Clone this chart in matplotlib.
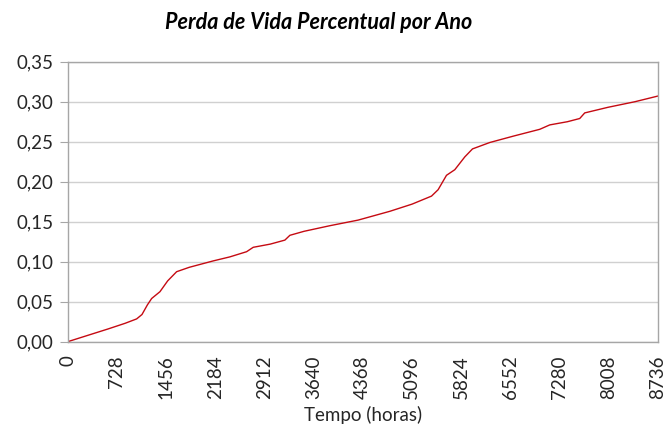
import matplotlib
matplotlib.use("Agg")
import matplotlib.pyplot as plt
from matplotlib.ticker import FuncFormatter

# Pontos (horas, perda de vida %)
horas = [0, 300, 600, 850, 1021, 1100, 1180, 1243, 1366, 1480, 1613, 1800,
         2155, 2400, 2649, 2747, 3000, 3216, 3290, 3500, 3882, 4300,
         4770, 5100, 5387, 5485, 5609, 5732, 5880, 5994, 6250, 6600,
         6990, 7138, 7400, 7582, 7656, 8000, 8400, 8736]
perda = [0.0, 0.008, 0.016, 0.023, 0.0285, 0.034, 0.046, 0.054, 0.0625, 0.076, 0.0875, 0.093,
         0.101, 0.106, 0.1125, 0.118, 0.122, 0.127, 0.133, 0.138, 0.145, 0.152,
         0.163, 0.172, 0.182, 0.19, 0.208, 0.215, 0.231, 0.241, 0.249, 0.257,
         0.2655, 0.271, 0.275, 0.279, 0.286, 0.293, 0.300, 0.307]

xticks = list(range(0, 8737, 728))
yticks = [0.0, 0.05, 0.10, 0.15, 0.20, 0.25, 0.30, 0.35]

plt.rcParams['font.family'] = ['Lato', 'DejaVu Sans']

fig = plt.figure(figsize=(6.67, 4.25), dpi=100)
ax = fig.add_axes([0.1015, 0.196, 0.8845, 0.6588])

ax.plot(horas, perda, color="#c50a12", linewidth=1.0)

ax.set_xlim(0, 8736)
ax.set_ylim(0, 0.35)
ax.set_xticks(xticks)
ax.set_xticklabels([str(t) for t in xticks], rotation=90)
ax.set_yticks(yticks)
ax.yaxis.set_major_formatter(FuncFormatter(lambda v, p: "{:.2f}".format(v).replace(".", ",")))

ax.grid(axis="y", color="#d0d0d0", linewidth=1.0)
ax.set_axisbelow(True)
for s in ax.spines.values():
    s.set_color("#a6a6a6")
    s.set_linewidth(1.0)

ax.tick_params(axis="x", length=0, pad=10, labelsize=13.5, labelcolor="#262626")
ax.tick_params(axis="y", length=6, color="#a6a6a6", pad=4, labelsize=13.5, labelcolor="#262626")

ax.set_xlabel("Tempo (horas)", fontsize=13.5, color="#262626", labelpad=5)
fig.text(0.4775, 0.948, "Perda de Vida Percentual por Ano", ha="center", va="center",
         fontsize=15.5, fontweight="bold", fontstyle="italic", color="#000000")

fig.savefig("out.png", dpi=100)
